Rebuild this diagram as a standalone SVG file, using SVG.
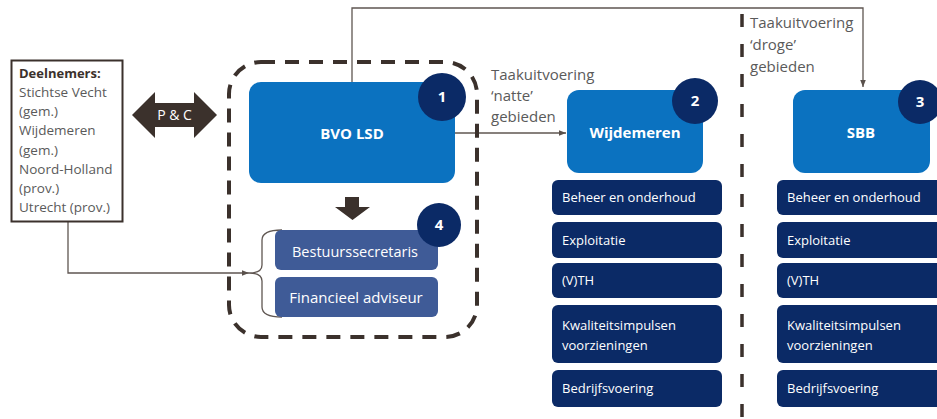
<svg xmlns="http://www.w3.org/2000/svg" width="937" height="419" viewBox="0 0 937 419">
<defs>
<marker id="arr" viewBox="0 0 10 10" refX="10" refY="5" markerWidth="7" markerHeight="7" orient="auto" markerUnits="userSpaceOnUse">
<path d="M0,1 L10,5 L0,9 z" fill="#5a514c"/>
</marker>
<style>
.lbl{font-family:"Open Sans","Liberation Sans",sans-serif;fill:#5a5a5a;font-size:15px}
.w{font-family:"Open Sans","Liberation Sans",sans-serif;fill:#ffffff;font-size:13px}
.wb{font-family:"Open Sans","Liberation Sans",sans-serif;fill:#ffffff;font-size:15px;font-weight:bold}
.blue{fill:#0b72c0}
.navy{fill:#0b2a66}
.steel{fill:#3f5b97}
.num{fill:#0b2a66}
.conn{fill:none;stroke:#5f5651;stroke-width:1.3}
</style>
</defs>
<rect width="937" height="419" fill="#ffffff"/>

<g id="connectors">
<path class="conn" d="M352,82 V8 H863 V87" marker-end="url(#arr)"/>
<path class="conn" d="M455,133 H566" marker-end="url(#arr)"/>
<path class="conn" d="M68,222 V273 H249" marker-end="url(#arr)"/>
<path d="M282,230 Q262,230 262,240 V265 Q262,273 249,273 Q262,273 262,281 V307 Q262,317 282,317" fill="none" stroke="#5f5651" stroke-width="1.3"/>
<line x1="742" y1="14" x2="742" y2="419" stroke="#3b312c" stroke-width="3.5" stroke-dasharray="13,17"/>
</g>

<g id="deelnemers">
<rect x="11.5" y="60.5" width="111" height="161" fill="#ffffff" stroke="#3b312c" stroke-width="2"/>
<text class="lbl" x="19" y="78" style="font-size:13px;font-weight:bold;fill:#3b312c">Deelnemers:</text>
<text class="lbl" x="19" y="97" style="font-size:13.5px">Stichtse Vecht</text>
<text class="lbl" x="19" y="116" style="font-size:13.5px">(gem.)</text>
<text class="lbl" x="19" y="135" style="font-size:13.5px">Wijdemeren</text>
<text class="lbl" x="19" y="155" style="font-size:13.5px">(gem.)</text>
<text class="lbl" x="19" y="174" style="font-size:13.5px">Noord-Holland</text>
<text class="lbl" x="19" y="193" style="font-size:13.5px">(prov.)</text>
<text class="lbl" x="19" y="212" style="font-size:13.5px">Utrecht (prov.)</text>
</g>

<g id="pc">
<path d="M132,115 L155,92 V103 H194 V92 L217,115 L194,138 V127 H155 V138 z" fill="#3b312c"/>
<text class="w" x="174.5" y="120" text-anchor="middle" style="font-size:14px">P &amp; C</text>
</g>

<g id="bvo-group">
<rect x="229" y="62" width="248" height="275" rx="32" fill="none" stroke="#3b312c" stroke-width="4" stroke-dasharray="14,10"/>
</g>

<g id="bvo">
<rect class="blue" x="249" y="82" width="206" height="101" rx="12"/>
<text class="wb" x="352" y="139" text-anchor="middle">BVO LSD</text>
<circle class="num" cx="442" cy="97" r="24"/>
<text class="wb" x="442" y="102" text-anchor="middle">1</text>
</g>

<g id="down-arrow">
<path d="M345,197 H359 V207 H370 L352.5,220 L335,207 H345 z" fill="#3b312c"/>
</g>

<g id="bestuur">
<rect class="steel" x="275" y="230" width="163" height="40" rx="6"/>
<text class="w" x="355" y="257" text-anchor="middle" style="font-size:14.5px">Bestuurssecretaris</text>
</g>
<g id="financieel">
<rect class="steel" x="275" y="277" width="163" height="40" rx="6"/>
<text class="w" x="356" y="303" text-anchor="middle" style="font-size:15px">Financieel adviseur</text>
</g>
<g id="badge4">
<circle class="num" cx="439" cy="225" r="22"/>
<text class="wb" x="439" y="230" text-anchor="middle">4</text>
</g>

<g id="label-natte">
<text class="lbl" x="491" y="80">Taakuitvoering</text>
<text class="lbl" x="491" y="101">‘natte’</text>
<text class="lbl" x="491" y="122">gebieden</text>
</g>

<g id="label-droge">
<text class="lbl" x="750" y="28">Taakuitvoering</text>
<text class="lbl" x="750" y="50">‘droge’</text>
<text class="lbl" x="750" y="72">gebieden</text>
</g>

<g id="wijdemeren">
<rect class="blue" x="567" y="90" width="136" height="83" rx="12"/>
<text class="wb" x="635" y="138" text-anchor="middle">Wijdemeren</text>
<circle class="num" cx="695" cy="101" r="23"/>
<text class="wb" x="695" y="106" text-anchor="middle">2</text>
</g>

<g id="w-tasks">
<rect class="navy" x="552" y="180" width="170" height="35" rx="6"/>
<text class="w" x="562" y="202">Beheer en onderhoud</text>
<rect class="navy" x="552" y="222" width="170" height="36" rx="6"/>
<text class="w" x="562" y="245">Exploitatie</text>
<rect class="navy" x="552" y="263" width="170" height="35" rx="6"/>
<text class="w" x="562" y="285">(V)TH</text>
<rect class="navy" x="552" y="305" width="170" height="58" rx="6"/>
<text class="w" x="562" y="330">Kwaliteitsimpulsen</text>
<text class="w" x="562" y="350">voorzieningen</text>
<rect class="navy" x="552" y="370" width="170" height="37" rx="6"/>
<text class="w" x="562" y="393">Bedrijfsvoering</text>
</g>

<g id="sbb">
<rect class="blue" x="793" y="90" width="137" height="83" rx="12"/>
<text class="wb" x="861" y="138" text-anchor="middle">SBB</text>
<circle class="num" cx="920" cy="102" r="22"/>
<text class="wb" x="920" y="107" text-anchor="middle">3</text>
</g>

<g id="s-tasks">
<rect class="navy" x="777" y="180" width="172" height="35" rx="6"/>
<text class="w" x="787" y="202">Beheer en onderhoud</text>
<rect class="navy" x="777" y="222" width="172" height="36" rx="6"/>
<text class="w" x="787" y="245">Exploitatie</text>
<rect class="navy" x="777" y="263" width="172" height="35" rx="6"/>
<text class="w" x="787" y="285">(V)TH</text>
<rect class="navy" x="777" y="305" width="172" height="58" rx="6"/>
<text class="w" x="787" y="330">Kwaliteitsimpulsen</text>
<text class="w" x="787" y="350">voorzieningen</text>
<rect class="navy" x="777" y="370" width="172" height="37" rx="6"/>
<text class="w" x="787" y="393">Bedrijfsvoering</text>
</g>
</svg>
